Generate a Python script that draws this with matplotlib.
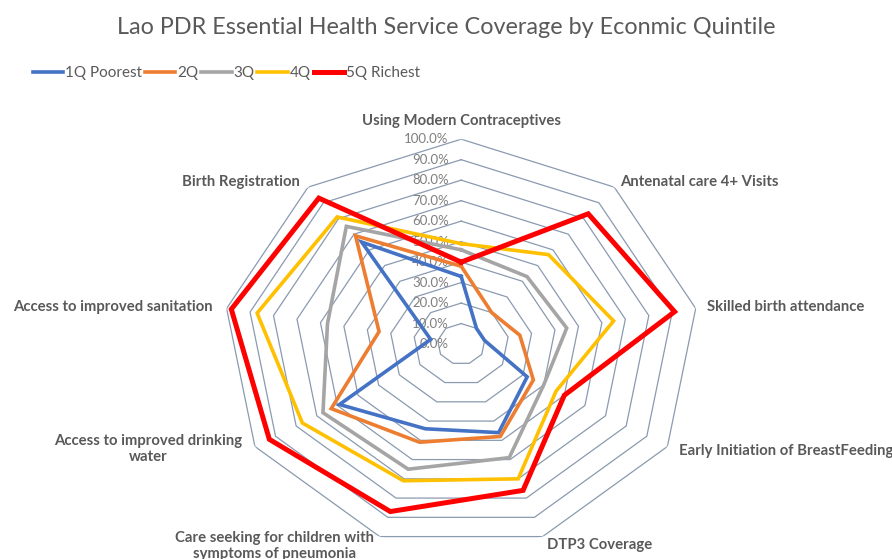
import numpy as np
import matplotlib.pyplot as plt

# indicator axes, clockwise from the top
categories = ['Using Modern Contraceptives', 'Antenatal care 4+ Visits',
              'Skilled birth attendance', 'Early Initiation of BreastFeeding',
              'DTP3 Coverage', 'Care seeking for children with\nsymptoms of pneumonia',
              'Access to improved drinking\nwater', 'Access to improved sanitation',
              'Birth Registration']

# coverage (%) per quintile
q1_poorest = [33, 10, 10, 32, 46, 44, 59, 13, 65]
q2 = [38, 20, 25, 35, 48, 51, 63, 35, 69]
q3 = [46, 43, 45, 40, 59, 65, 67, 57, 75]
q4 = [49, 57, 65, 46, 70, 71, 77, 87, 81]
q5_richest = [40, 83, 91, 50, 76, 87, 93, 98, 93]

series_names = ['1Q Poorest', '2Q', '3Q', '4Q', '5Q Richest']
radial_ticks = [0, 10, 20, 30, 40, 50, 60, 70, 80, 90, 100]

colors = ['#4472C4', '#ED7D31', '#A5A5A5', '#FFC000', '#FF0000']
widths = [2.6, 2.6, 2.6, 2.6, 3.6]
txt_color = '#595959'
font = ['Lato', 'DejaVu Sans']

fig = plt.figure(figsize=(8.92, 5.59), dpi=100)
ax = fig.add_axes([0.25, 0.018, 0.534, 0.733], projection='polar')
ax.set_aspect('auto')
ax.set_theta_zero_location('N')
ax.set_theta_direction(-1)
ax.set_ylim(0, 100)
ax.grid(False)
ax.spines['polar'].set_visible(False)
ax.set_xticks([])
ax.set_yticks([])
ax.patch.set_visible(False)

n = len(categories)
angles = np.linspace(0, 2 * np.pi, n, endpoint=False)
closed = np.append(angles, angles[0])

# polygon grid
for r in radial_ticks[1:]:
    ax.plot(closed, [r] * (n + 1), color='#8a9ab0', lw=0.9, zorder=1)

# radial labels along the top axis
for r in radial_ticks:
    ax.annotate(f'{r:.1f}%', xy=(0, r), xytext=(-9, 0), textcoords='offset points',
                ha='right', va='center', fontsize=9.5, color='#7f7f7f', family=font,
                zorder=2)

all_series = [q1_poorest, q2, q3, q4, q5_richest]
for name, vals, c, w in zip(series_names, all_series, colors, widths):
    ax.plot(closed, vals + vals[:1], color=c, lw=w, label=name, zorder=3,
            solid_joinstyle='miter')

# category labels placed outside each vertex
offsets = [(0, 13), (4, 4), (8, 1), (8, -3), (3, -6), (-4, -7), (-9, -2), (-10, 1), (-6, 4)]
aligns = ['center', 'left', 'left', 'left', 'left', 'right', 'right', 'right', 'right']
for ang, lab, off, ha in zip(angles, categories, offsets, aligns):
    ax.annotate(lab, xy=(ang, 100), xytext=off, textcoords='offset points',
                ha=ha, va='center', multialignment='center', fontsize=10.7,
                fontweight='bold', color=txt_color, family=font, annotation_clip=False)

fig.text(0.5, 0.95, 'Lao PDR Essential Health Service Coverage by Econmic Quintile',
         ha='center', va='center', fontsize=16.8, color=txt_color, family=font)

fig.legend(loc='center left', bbox_to_anchor=(0.028, 0.869), ncol=5, frameon=False,
           handlelength=2.0, handletextpad=0.1, columnspacing=0.2, borderpad=0,
           prop={'family': font, 'size': 11}, labelcolor=txt_color)

fig.savefig('out.png', dpi=100)
